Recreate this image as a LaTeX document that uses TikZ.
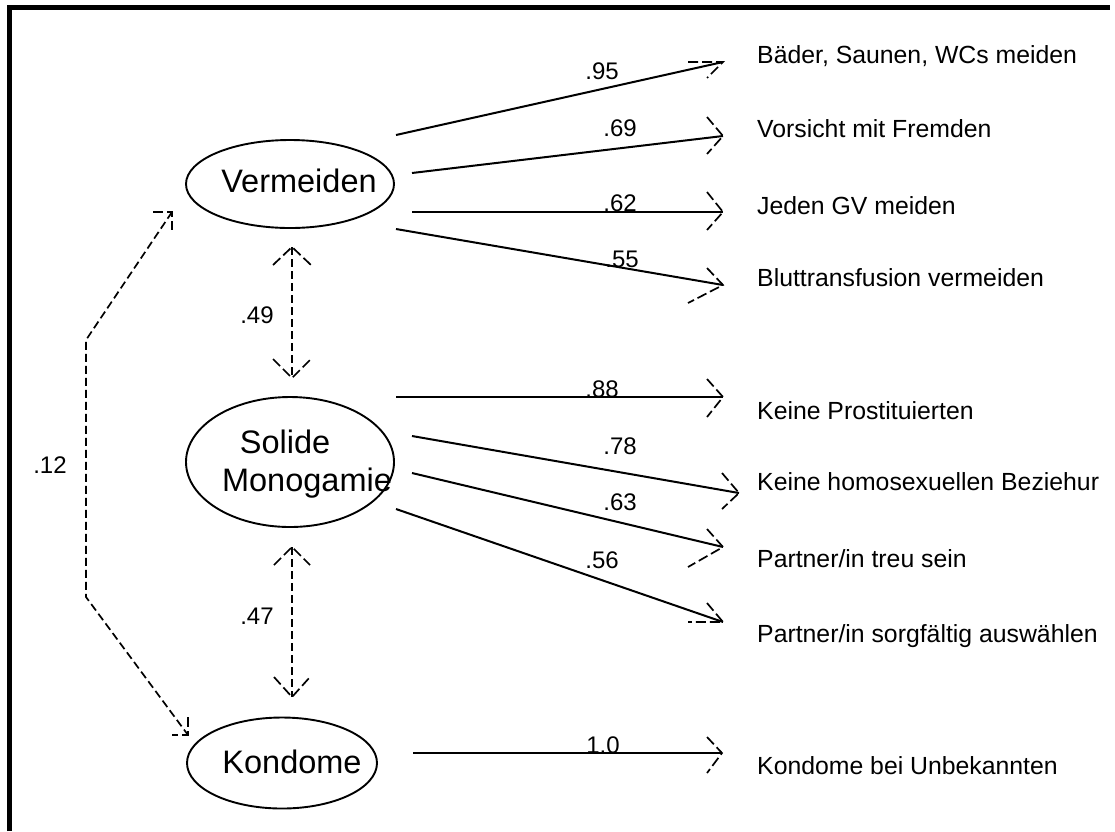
\documentclass[tikz,border=0pt]{standalone}
\usepackage{fontspec}
\setmainfont{Liberation Sans}
\usetikzlibrary{shapes.geometric}
\newcommand{\mybarbs}[3]{\draw[barbst] (#1) ++(#2) -- (#1) -- ++(#3);}
\begin{document}
\begin{tikzpicture}[x=1pt,y=-1pt,
  latent/.style={ellipse, draw, line width=1.9pt, inner sep=0pt},
  pathline/.style={line width=2pt},
  cov/.style={line width=1.7pt, dash pattern=on 8pt off 4pt},
  barbst/.style={line width=1.7pt, dash pattern=on 10pt off 4pt, line join=miter},
  ind/.style={anchor=base west, inner sep=0pt, font=\fontsize{24.8}{29}\selectfont},
  coef/.style={anchor=base, inner sep=0pt, font=\fontsize{24}{29}\selectfont},
  ltext/.style={anchor=base, inner sep=0pt, font=\fontsize{32.5}{38}\selectfont}
]
\useasboundingbox (0,0) rectangle (1115,831);
% frame
\draw[line width=5pt] (9,831) -- (9,7.5) -- (1110,7.5);

% latent variables
\node[latent, minimum width=208pt, minimum height=88pt] (verm) at (290,184) {};
\node[latent, minimum width=208pt, minimum height=130pt] (mono) at (290,462) {};
\node[latent, minimum width=190pt, minimum height=91pt] (kond) at (282,763) {};
\node[ltext] (vermT) at (299,192) {Vermeiden};
\node[ltext] (monoT1) at (285,453) {Solide};
\node[ltext] (monoT2) at (307,491) {Monogamie};
\node[ltext] (kondT) at (292,773) {Kondome};

% indicators
\node[ind] (i1) at (757,63) {Bäder, Saunen, WCs meiden};
\node[ind] (i2) at (757,137) {Vorsicht mit Fremden};
\node[ind] (i3) at (757,214) {Jeden GV meiden};
\node[ind] (i4) at (757,286) {Bluttransfusion vermeiden};
\node[ind] (i5) at (757,419) {Keine Prostituierten};
\node[ind] (i6) at (757,490) {Keine homosexuellen Beziehur};
\node[ind] (i7) at (757,567) {Partner/in treu sein};
\node[ind] (i8) at (757,642) {Partner/in sorgfältig auswählen};
\node[ind] (i9) at (757,774) {Kondome bei Unbekannten};

% start and tip coordinates
\coordinate (s1) at (396,135);  \coordinate (t1) at (723,62);
\coordinate (s2) at (412,173);  \coordinate (t2) at (723,136);
\coordinate (s3) at (412,212);  \coordinate (t3) at (723,212);
\coordinate (s4) at (396,229);  \coordinate (t4) at (723,285);
\coordinate (s5) at (396,397);  \coordinate (t5) at (723,397);
\coordinate (s6) at (412,436);  \coordinate (t6) at (739,493);
\coordinate (s7) at (412,473);  \coordinate (t7) at (723,547);
\coordinate (s8) at (396,509);  \coordinate (t8) at (723,622);
\coordinate (s9) at (413,753);  \coordinate (t9) at (722,753);

\draw[pathline] (s1) -- (t1);
\draw[pathline] (s2) -- (t2);
\draw[pathline] (s3) -- (t3);
\draw[pathline] (s4) -- (t4);
\draw[pathline] (s5) -- (t5);
\draw[pathline] (s6) -- (t6);
\draw[pathline] (s7) -- (t7);
\draw[pathline] (s8) -- (t8);
\draw[pathline] (s9) -- (t9);

\mybarbs{t1}{-35,0}{-16,16}
\mybarbs{t2}{-16,-19}{-16,18}
\mybarbs{t3}{-16,-20}{-16,18}
\mybarbs{t4}{-16,-17}{-35,18}
\mybarbs{t5}{-16,-18}{-16,20}
\mybarbs{t6}{-17,-20}{-17,16}
\mybarbs{t7}{-16,-18}{-35,20}
\mybarbs{t8}{-16,-19}{-35,0}
\mybarbs{t9}{-15,-16}{-15,20}

% loadings
\node[coef] (c1) at (602,79) {.95};
\node[coef] (c2) at (620,136) {.69};
\node[coef] (c3) at (620,211) {.62};
\node[coef] (c4) at (622,267) {.55};
\node[coef] (c5) at (602,397) {.88};
\node[coef] (c6) at (620,454) {.78};
\node[coef] (c7) at (620,510) {.63};
\node[coef] (c8) at (602,568) {.56};
\node[coef] (c9) at (603,753) {1.0};

% correlations
\coordinate (a1) at (292,247); \coordinate (a2) at (292,378);
\coordinate (b1) at (292,547); \coordinate (b2) at (292,697);
\draw[cov] (a1) -- (a2);
\draw[cov] (b1) -- (b2);
\mybarbs{a1}{-19,18}{19,18}
\mybarbs{a2}{-19,-19}{19,-19}
\mybarbs{b1}{-18,18}{18,18}
\mybarbs{b2}{-18,-20}{18,-20}
\node[coef] (r1) at (257,323) {.49};
\node[coef] (r2) at (257,624) {.47};

\coordinate (d1) at (172,212); \coordinate (d2) at (188,735);
\draw[cov] (d1) -- (86,340) -- (86,597) -- (d2);
\mybarbs{d1}{-19,0}{0,18}
\mybarbs{d2}{0,-18}{-16,0}
\node[coef] (r3) at (50,473) {.12};
\end{tikzpicture}
\end{document}
